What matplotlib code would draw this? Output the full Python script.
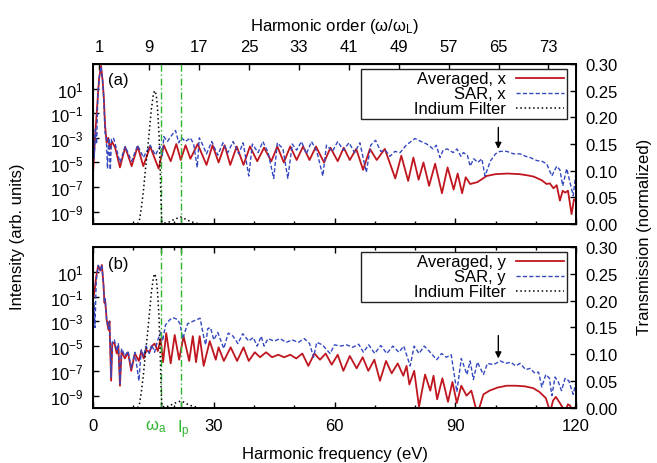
import numpy as np
import matplotlib.pyplot as plt
from matplotlib.ticker import FixedLocator, NullLocator, MultipleLocator, FormatStrFormatter, LogFormatterSciNotation
from matplotlib.transforms import ScaledTranslation

plt.rcParams['font.family'] = ['Liberation Sans', 'DejaVu Sans']
plt.rcParams['font.size'] = 12
plt.rcParams['mathtext.fontset'] = 'custom'
plt.rcParams['mathtext.rm'] = 'Liberation Sans'
plt.rcParams['mathtext.it'] = 'Liberation Sans:italic'
plt.rcParams['axes.unicode_minus'] = False

# laser photon energy and the two marked energies (eV)
omega_L = 1.55
omega_a = 17.0
ip = 21.8

# spectra: (harmonic frequency in eV, log10 intensity)
avg_x = [(0.0, -5.9), (0.5, -3.0), (1.0, -0.6), (1.5, 1.8), (2.0, 2.85), (2.4, 1.6), (2.7, 0.2),
         (3.0, -2.0), (3.4, -3.4), (3.8, -3.0), (4.2, -3.9), (4.7, -3.3), (5.5, -3.8), (6.7, -5.4),
         (8.0, -3.75), (9.6, -5.3), (11.1, -3.7), (12.5, -5.3), (14.2, -3.7), (16.3, -5.5), (17.6, -3.6),
         (19.3, -4.9), (20.7, -3.5), (21.8, -4.8), (23.0, -3.6), (24.2, -4.7), (26.0, -3.5), (28.2, -5.2),
         (29.7, -3.6), (31.2, -5.0), (32.7, -3.6), (34.1, -5.2), (35.7, -3.7), (37.4, -5.2), (39.0, -3.7),
         (40.8, -4.9), (42.5, -3.8), (44.3, -4.9), (45.8, -3.7), (47.4, -5.0), (49.0, -3.7), (50.6, -4.8),
         (52.2, -3.7), (53.8, -4.8), (55.4, -3.7), (57.4, -5.0), (59.0, -3.8), (60.8, -4.9), (62.3, -3.8),
         (63.8, -4.8), (65.4, -3.9), (67.1, -5.6), (68.8, -3.9), (70.5, -4.8), (72.5, -3.9), (75.1, -6.3),
         (76.6, -4.45), (78.3, -6.5), (79.6, -4.6), (80.9, -6.4), (82.1, -5.0), (83.5, -6.9), (85.0, -5.1),
         (86.7, -7.5), (88.1, -5.4), (89.6, -7.2), (90.6, -5.9), (91.7, -7.5), (92.6, -6.2), (93.7, -6.75),
         (95.5, -6.6), (97.8, -6.1), (100.0, -5.95), (103.0, -5.9), (106.0, -5.95), (108.0, -6.05),
         (109.5, -6.15), (110.5, -6.3), (111.5, -6.45), (112.7, -6.75), (113.5, -6.7), (114.4, -7.1),
         (115.2, -6.85), (116.0, -8.1), (116.7, -7.3), (117.3, -7.45), (118.0, -7.3), (118.9, -9.2),
         (119.5, -8.0), (120.0, -8.1)]

sar_x = [(0.0, -2.0), (0.3, -4.6), (0.6, -2.3), (0.9, -3.5), (1.2, 0.5), (1.6, 2.0), (2.0, 2.8), (2.4, 1.6),
         (2.7, 0.0), (3.0, -2.6), (3.3, -3.0), (3.6, -5.5), (3.9, -3.0), (4.3, -5.6), (4.6, -3.1), (5.1, -3.0),
         (5.6, -3.6), (6.7, -5.0), (8.0, -3.7), (9.6, -4.9), (11.1, -3.6), (12.5, -4.6), (14.2, -3.6),
         (15.5, -4.4), (16.6, -3.7), (17.2, -4.5), (17.6, -2.9), (18.5, -3.3), (19.3, -2.9), (20.5, -2.4),
         (21.3, -3.4), (22.0, -3.0), (23.0, -3.3), (24.2, -3.0), (25.0, -3.5), (25.9, -5.4), (26.4, -3.0),
         (27.3, -3.6), (28.2, -4.3), (29.5, -3.3), (31.0, -4.4), (32.3, -3.4), (33.5, -4.2), (34.8, -3.3),
         (36.2, -4.3), (37.3, -3.4), (38.7, -6.1), (39.6, -3.5), (41.0, -4.2), (42.2, -3.3), (43.5, -4.2),
         (44.9, -6.3), (45.8, -3.4), (47.2, -3.9), (48.4, -6.3), (49.5, -3.5), (50.6, -4.0), (51.8, -3.3),
         (53.0, -4.3), (54.3, -3.3), (55.6, -4.1), (57.1, -6.1), (58.0, -3.6), (59.5, -4.1), (60.8, -3.3),
         (62.2, -4.0), (63.6, -3.4), (65.0, -4.2), (66.3, -3.4), (67.9, -5.8), (69.0, -3.6), (70.2, -3.2),
         (71.5, -4.1), (72.6, -4.0), (73.8, -4.5), (75.0, -4.1), (76.3, -4.2), (77.8, -3.6), (79.0, -3.3),
         (80.0, -3.05), (81.5, -3.3), (82.9, -3.5), (84.5, -3.9), (85.3, -3.6), (86.2, -4.6), (87.0, -4.0),
         (88.0, -3.9), (89.5, -4.2), (90.4, -3.9), (91.4, -4.5), (92.0, -4.2), (93.0, -4.4), (93.7, -5.3),
         (94.6, -4.7), (95.6, -5.0), (96.6, -4.7), (97.4, -6.1), (98.7, -4.9), (100.0, -4.3), (101.1, -4.1),
         (102.8, -4.1), (104.5, -4.3), (106.1, -4.3), (107.5, -4.5), (108.6, -4.6), (110.3, -4.85),
         (111.5, -4.9), (112.7, -5.1), (114.0, -6.1), (115.2, -5.3), (116.0, -5.6), (116.7, -6.9),
         (117.7, -5.5), (118.5, -6.6), (119.3, -7.7), (120.0, -5.8)]

avg_y = [(0.0, -1.3), (0.4, -0.5), (0.8, 0.6), (1.3, 1.5), (1.8, 1.1), (2.2, 1.55), (2.6, 0.0), (2.85, -1.5),
         (3.0, -1.2), (3.4, -2.9), (3.85, -3.7), (4.1, -3.0), (4.5, -7.8), (4.8, -4.8), (5.3, -4.7),
         (5.9, -5.6), (6.3, -5.0), (6.7, -8.2), (7.1, -5.4), (7.9, -6.0), (8.7, -5.5), (9.5, -7.0),
         (10.4, -5.6), (11.4, -6.2), (12.0, -5.4), (12.6, -6.0), (13.2, -5.3), (14.0, -5.5), (14.6, -5.0),
         (15.3, -4.8), (16.1, -5.4), (16.8, -4.4), (17.4, -6.3), (18.2, -3.95), (19.3, -6.4), (20.3, -4.1),
         (21.4, -6.1), (22.5, -4.2), (23.9, -6.2), (24.8, -4.2), (25.6, -6.3), (26.5, -4.2), (27.5, -6.6),
         (29.0, -4.6), (30.5, -6.1), (31.2, -5.1), (32.5, -6.2), (34.2, -5.1), (35.8, -6.2), (37.4, -5.1),
         (38.7, -6.2), (40.2, -5.5), (41.5, -5.9), (43.0, -5.5), (44.5, -5.9), (46.0, -5.7), (47.5, -5.9),
         (49.0, -5.7), (50.5, -6.0), (52.0, -5.6), (53.5, -6.6), (55.0, -5.6), (56.4, -6.1), (57.8, -5.6),
         (59.3, -6.5), (60.8, -5.7), (62.2, -7.0), (63.8, -5.8), (65.5, -6.8), (67.0, -5.9), (68.4, -7.0),
         (69.9, -6.1), (71.3, -7.8), (72.8, -6.2), (74.2, -7.2), (75.7, -6.4), (77.1, -7.4), (77.9, -6.6),
         (78.6, -8.1), (79.8, -7.0), (81.0, -9.9), (82.5, -7.3), (83.8, -8.6), (84.6, -7.4), (85.5, -9.3),
         (86.8, -7.6), (88.2, -9.5), (89.3, -7.9), (90.4, -9.6), (91.5, -8.2), (92.8, -9.0), (94.0, -8.6),
         (95.5, -10.5), (97.0, -8.9), (98.5, -8.6), (100.5, -8.35), (102.8, -8.2), (105.0, -8.2),
         (107.3, -8.25), (109.4, -8.4), (110.9, -8.7), (112.5, -9.2), (113.6, -10.3), (114.3, -9.4),
         (115.0, -9.1), (116.0, -9.6), (117.3, -10.3), (118.0, -9.7), (118.5, -9.8), (119.3, -10.3),
         (120.0, -9.8)]

sar_y = [(0.0, -4.9), (0.2, -1.5), (0.5, -3.5), (0.8, 0.3), (1.3, 1.5), (1.8, 1.1), (2.2, 1.55), (2.6, 0.0),
         (2.85, -1.5), (3.0, -1.2), (3.4, -2.9), (3.85, -3.6), (4.1, -3.0), (4.5, -7.5), (4.8, -4.6),
         (5.3, -4.5), (5.9, -5.4), (6.3, -4.8), (6.7, -8.0), (7.1, -5.2), (7.9, -5.8), (8.7, -5.4),
         (9.5, -6.8), (10.4, -5.5), (11.4, -7.8), (12.0, -5.3), (12.6, -5.8), (13.2, -5.0), (14.0, -5.6),
         (14.6, -4.9), (15.3, -5.5), (16.0, -4.6), (16.8, -3.9), (17.3, -4.6), (18.0, -3.3), (19.0, -2.9),
         (19.8, -2.7), (21.0, -2.85), (21.6, -3.2), (22.3, -4.4), (23.5, -3.2), (24.8, -3.0), (26.6, -2.75),
         (27.6, -4.4), (28.0, -4.9), (28.5, -3.6), (29.2, -3.5), (30.0, -4.5), (31.0, -3.9), (32.5, -5.2),
         (33.6, -3.95), (34.8, -4.2), (36.0, -4.8), (37.2, -4.0), (38.7, -4.6), (39.8, -4.3), (40.8, -5.0),
         (41.8, -4.2), (42.5, -5.0), (43.5, -4.4), (45.0, -4.6), (46.5, -4.4), (48.0, -4.7), (49.5, -4.5),
         (51.0, -4.7), (52.5, -4.4), (53.8, -4.8), (54.8, -5.9), (55.6, -4.7), (57.0, -4.9), (58.9, -5.6),
         (60.0, -4.9), (61.5, -5.0), (63.0, -4.9), (64.5, -5.1), (66.0, -4.85), (67.2, -5.5), (68.5, -4.9),
         (70.0, -5.6), (71.5, -4.95), (73.0, -5.6), (74.5, -5.0), (76.0, -5.5), (77.2, -5.0), (78.8, -6.6),
         (79.8, -5.0), (81.0, -5.6), (82.3, -5.0), (83.5, -5.4), (85.4, -6.1), (86.6, -5.6), (87.8, -5.9),
         (89.0, -5.7), (90.4, -8.7), (91.5, -6.0), (92.9, -7.3), (93.7, -6.2), (94.5, -7.7), (95.5, -6.3),
         (97.0, -7.3), (98.0, -6.4), (99.5, -6.5), (101.2, -6.2), (102.5, -6.4), (103.8, -6.3),
         (105.0, -6.6), (106.1, -6.4), (107.5, -6.9), (108.6, -6.8), (109.8, -7.2), (110.7, -7.1),
         (111.5, -8.3), (112.5, -7.3), (113.4, -7.6), (114.0, -9.0), (114.8, -7.5), (115.6, -7.9),
         (116.4, -8.6), (117.3, -7.6), (118.2, -7.8), (119.3, -8.9), (120.0, -7.9)]

# indium filter transmission: (eV, normalized transmission)
indium = [(10.0, 0.0), (11.0, 0.0), (11.5, 0.005), (12.0, 0.03), (12.5, 0.06), (13.0, 0.10), (13.5, 0.135),
          (14.0, 0.175), (14.5, 0.215), (15.0, 0.243), (15.3, 0.25), (15.7, 0.243), (16.0, 0.22),
          (16.4, 0.17), (16.7, 0.10), (16.9, 0.04), (17.1, 0.003), (18.0, 0.002), (19.0, 0.004),
          (20.0, 0.008), (21.0, 0.011), (21.8, 0.013), (22.5, 0.011), (23.5, 0.007), (24.5, 0.004),
          (25.5, 0.002), (26.5, 0.0), (27.0, 0.0)]

# arrows: (eV, log10 tail, log10 tip)
arrow_a = (100.7, -2.15, -3.9)
arrow_b = (100.7, -4.15, -6.0)

log_ticks = [1e1, 1e-1, 1e-3, 1e-5, 1e-7, 1e-9]
order_ticks = [1, 9, 17, 25, 33, 41, 49, 57, 65, 73]
freq_ticks = [0, omega_a, ip, 30, 60, 90, 120]
freq_labels = ['0', r'ω$_\mathrm{a}$', r'I$_\mathrm{p}$', '30', '60', '90', '120']

RED = '#c0161f'
BLUE = '#3448c0'
GREEN = '#2fb52f'

fig = plt.figure(figsize=(6.57, 4.64), dpi=100)
ax_a = fig.add_axes([93 / 657, 1 - 225 / 464, 483 / 657, 160 / 464])
ax_b = fig.add_axes([93 / 657, 1 - 409 / 464, 483 / 657, 161 / 464])


def draw_panel(ax, avg, sar, avg_label, sar_label, tag, arrow):
    e, l = np.array(avg).T
    h1, = ax.plot(e, 10.0 ** l, color=RED, lw=1.3, label=avg_label)
    e, l = np.array(sar).T
    h2, = ax.plot(e, 10.0 ** l, color=BLUE, lw=1.0, ls=(0, (3, 1.6)), label=sar_label)
    ax.set_yscale('log')
    ax.set_ylim(1e-10, 1e3)
    ax.set_xlim(0, 120)
    ax.yaxis.set_major_locator(FixedLocator(log_ticks))
    ax.yaxis.set_minor_locator(NullLocator())
    ax.yaxis.set_major_formatter(LogFormatterSciNotation())
    ax.set_xticks(freq_ticks)
    ax.xaxis.set_minor_locator(MultipleLocator(10))
    for x in (omega_a, ip):
        ax.axvline(x, color=GREEN, lw=1.0, ls=(0, (5, 2, 1, 2)))
    ax.tick_params(which='both', direction='in', pad=7, width=1)
    ax.tick_params(which='major', length=4.5)
    ax.tick_params(which='minor', length=2.5)
    for s in ax.spines.values():
        s.set_linewidth(1.4)

    tw = ax.twinx()
    e, t = np.array(indium).T
    h3, = tw.plot(e, t, color='black', lw=1.1, ls=(0, (1, 1.8)), label='Indium Filter')
    tw.set_ylim(0, 0.3)
    tw.yaxis.set_major_locator(MultipleLocator(0.05))
    tw.yaxis.set_major_formatter(FormatStrFormatter('%.2f'))
    tw.tick_params(direction='in', pad=7, length=4.5, width=1)

    leg = tw.legend([h1, h2, h3], [avg_label, sar_label, '           Indium Filter'],
                    loc='upper right', bbox_to_anchor=(0.981, 0.969), borderaxespad=0,
                    markerfirst=False, fancybox=False, framealpha=1, edgecolor='#222222',
                    borderpad=0.15, labelspacing=0.0, handlelength=2.9, handletextpad=0.6,
                    fontsize=12)
    leg.get_frame().set_linewidth(1.0)

    ax.text(0.031, 0.9, tag, transform=ax.transAxes, ha='left', va='center', fontsize=12)
    x, tail, tip = arrow
    ax.annotate('', xy=(x, 10.0 ** tip), xytext=(x, 10.0 ** tail),
                arrowprops=dict(arrowstyle='-|>', color='black', lw=1.0, mutation_scale=9,
                                shrinkA=0, shrinkB=0))
    return tw


draw_panel(ax_a, avg_x, sar_x, 'Averaged, x', 'SAR, x', '(a)', arrow_a)
draw_panel(ax_b, avg_y, sar_y, 'Averaged, y', 'SAR, y', '(b)', arrow_b)

ax_a.set_xticklabels([])
ax_a.tick_params(which='both', top=False)
ax_b.tick_params(which='both', top=True)
ax_b.set_xticklabels(freq_labels)
labs = ax_b.get_xticklabels()
for lab, dx in ((labs[1], -4), (labs[2], 2)):
    lab.set_color(GREEN)
    lab.set_transform(lab.get_transform() + ScaledTranslation(dx / 72, 0, fig.dpi_scale_trans))

top = ax_a.secondary_xaxis('top', functions=(lambda e: e / omega_L, lambda n: n * omega_L))
top.set_xticks(order_ticks)
top.tick_params(direction='in', pad=7, length=4.5, width=1)
top.set_xlabel(r'Harmonic order (ω/ω$_\mathrm{L}$)', labelpad=7)

fig.text(334.5 / 657, 2 / 464, 'Harmonic frequency (eV)', ha='center', va='bottom')
fig.text(18 / 657, 1 - 237 / 464, 'Intensity (arb. units)', rotation=90, ha='center', va='center')
fig.text(645 / 657, 1 - 237 / 464, 'Transmission (normalized)', rotation=90, ha='center', va='center')

fig.savefig('out.png', dpi=100)
